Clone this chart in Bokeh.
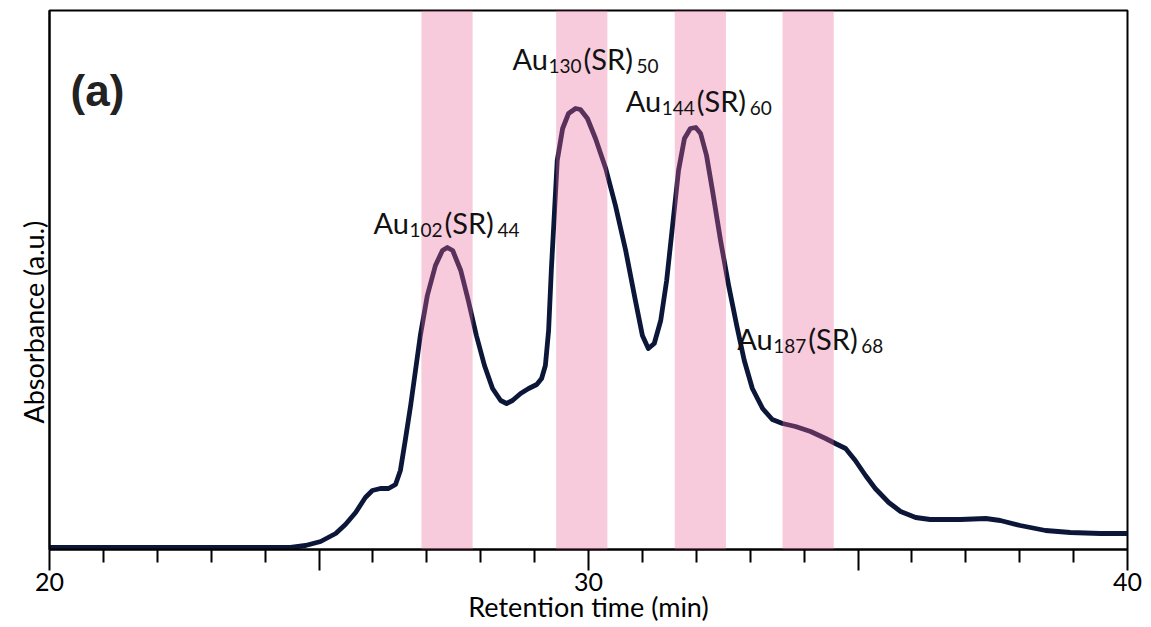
import math
from bokeh.plotting import figure
from bokeh.models import Range1d, FixedTicker, Label, BoxAnnotation, Title
from bokeh.embed import file_html
from bokeh.resources import INLINE

# ---- data ----
time = [20.0, 24.47, 24.75, 25.03, 25.31, 25.49, 25.68, 25.86, 25.99, 26.14, 26.29, 26.42,
        26.51, 26.60, 26.70, 26.79, 26.88, 27.01, 27.16, 27.29, 27.38, 27.48, 27.63, 27.77,
        27.92, 28.07, 28.22, 28.37, 28.48, 28.59, 28.74, 28.89, 29.04, 29.13, 29.20, 29.26,
        29.31, 29.37, 29.42, 29.52, 29.63, 29.76, 29.85, 29.98, 30.13, 30.32, 30.50, 30.69,
        30.87, 31.00, 31.11, 31.22, 31.34, 31.45, 31.56, 31.67, 31.78, 31.89, 31.99, 32.08,
        32.19, 32.30, 32.45, 32.60, 32.75, 32.89, 33.04, 33.23, 33.41, 33.60, 33.84, 34.12,
        34.40, 34.58, 34.77, 34.95, 35.14, 35.32, 35.57, 35.79, 36.07, 36.34, 36.90, 37.37,
        37.64, 38.01, 38.48, 38.94, 39.50, 40.0]
absorbance = [2, 2, 4, 8, 16, 25, 37, 52, 59, 61, 61, 65,
              79, 109, 144, 179, 214, 254, 284, 299, 302, 299, 279, 249,
              214, 184, 161, 149, 146, 149, 156, 161, 165, 171, 184, 219,
              279, 339, 389, 421, 436, 441, 440, 431, 411, 381, 344, 299,
              249, 214, 201, 206, 229, 269, 324, 379, 411, 421, 422, 416,
              394, 359, 309, 264, 224, 189, 161, 141, 130, 126, 123, 118,
              111, 106, 101, 89, 74, 61, 47, 38, 32, 30, 30, 31,
              29, 24, 19, 17, 16, 16]

band_left = [26.9, 29.4, 31.6, 33.6]
band_right = [27.85, 30.35, 32.55, 34.55]

cluster_au = ["102", "130", "144", "187"]
cluster_sr = ["44", "50", "60", "68"]
label_x = [26.01, 28.59, 30.69, 32.76]
label_y = [327, 491, 449, 211]

major_ticks = [20, 25, 30, 35, 40]
minor_ticks = [21, 22, 23, 24, 26, 27, 28, 29, 31, 32, 33, 34, 36, 37, 38, 39]
tick_overrides = {25: "", 35: ""}

FONT = "Lato"

p = figure(width=1151, height=627, x_range=Range1d(20, 40), y_range=Range1d(0, 539),
           output_backend="svg", toolbar_location=None,
           min_border_left=49, min_border_right=24, min_border_top=10, min_border_bottom=78)
p.grid.visible = False
p.outline_line_color = "black"
p.outline_line_width = 2
p.background_fill_color = "white"
p.border_fill_color = "white"

p.line(time, absorbance, line_color="#0c1638", line_width=4.8, line_join="round")

for l, r in zip(band_left, band_right):
    p.add_layout(BoxAnnotation(left=l, right=r, fill_color="#E8689A", fill_alpha=0.35,
                               line_color=None))

# x axis
xa = p.xaxis[0]
xa.ticker = FixedTicker(ticks=major_ticks, minor_ticks=minor_ticks)
xa.major_label_overrides = tick_overrides
xa.axis_line_width = 2
xa.axis_line_color = "black"
xa.major_tick_line_width = 2
xa.minor_tick_line_width = 2
xa.major_tick_in = 0
xa.major_tick_out = 21
xa.minor_tick_in = 0
xa.minor_tick_out = 13
xa.major_label_text_font = FONT
xa.major_label_text_font_size = "25px"
xa.major_label_text_color = "black"
xa.major_label_standoff = 2
xa.axis_label = "Retention time (min)"
xa.axis_label_text_font = FONT
xa.axis_label_text_font_size = "27px"
xa.axis_label_text_font_style = "normal"
xa.axis_label_text_color = "black"
xa.axis_label_standoff = -4

# y axis (spine only)
ya = p.yaxis[0]
ya.ticker = FixedTicker(ticks=[])
ya.axis_line_width = 2
ya.axis_line_color = "black"
ya.major_tick_line_color = None
ya.minor_tick_line_color = None

# y axis title (sits below the frame centre, as in the reference)
p.add_layout(Title(text="Absorbance (a.u.)", align="left", offset=126,
                   text_font=FONT, text_font_size="27px", text_font_style="normal",
                   text_color="black", standoff=0), "left")

# panel tag
p.add_layout(Label(x=20.39, y=459, text="(a)", text_font="Liberation Sans",
                   text_font_style="bold", text_font_size="44px", text_color="#222222",
                   text_baseline="alphabetic"))

# cluster labels with subscripts
piece_offsets = [0, 36, 71, 124]
for xx, yy, n, m in zip(label_x, label_y, cluster_au, cluster_sr):
    pieces = [("Au", 0, "29px"), (n, -7, "19px"), ("(SR)", 0, "29px"), (m, -7, "19px")]
    for (txt, dy, fs), off in zip(pieces, piece_offsets):
        p.add_layout(Label(x=xx, y=yy + dy, x_offset=off, text=txt, text_font=FONT,
                           text_font_size=fs, text_color="#111111",
                           text_baseline="alphabetic", text_align="left"))

open("out.html", "w").write(file_html(p, INLINE))
